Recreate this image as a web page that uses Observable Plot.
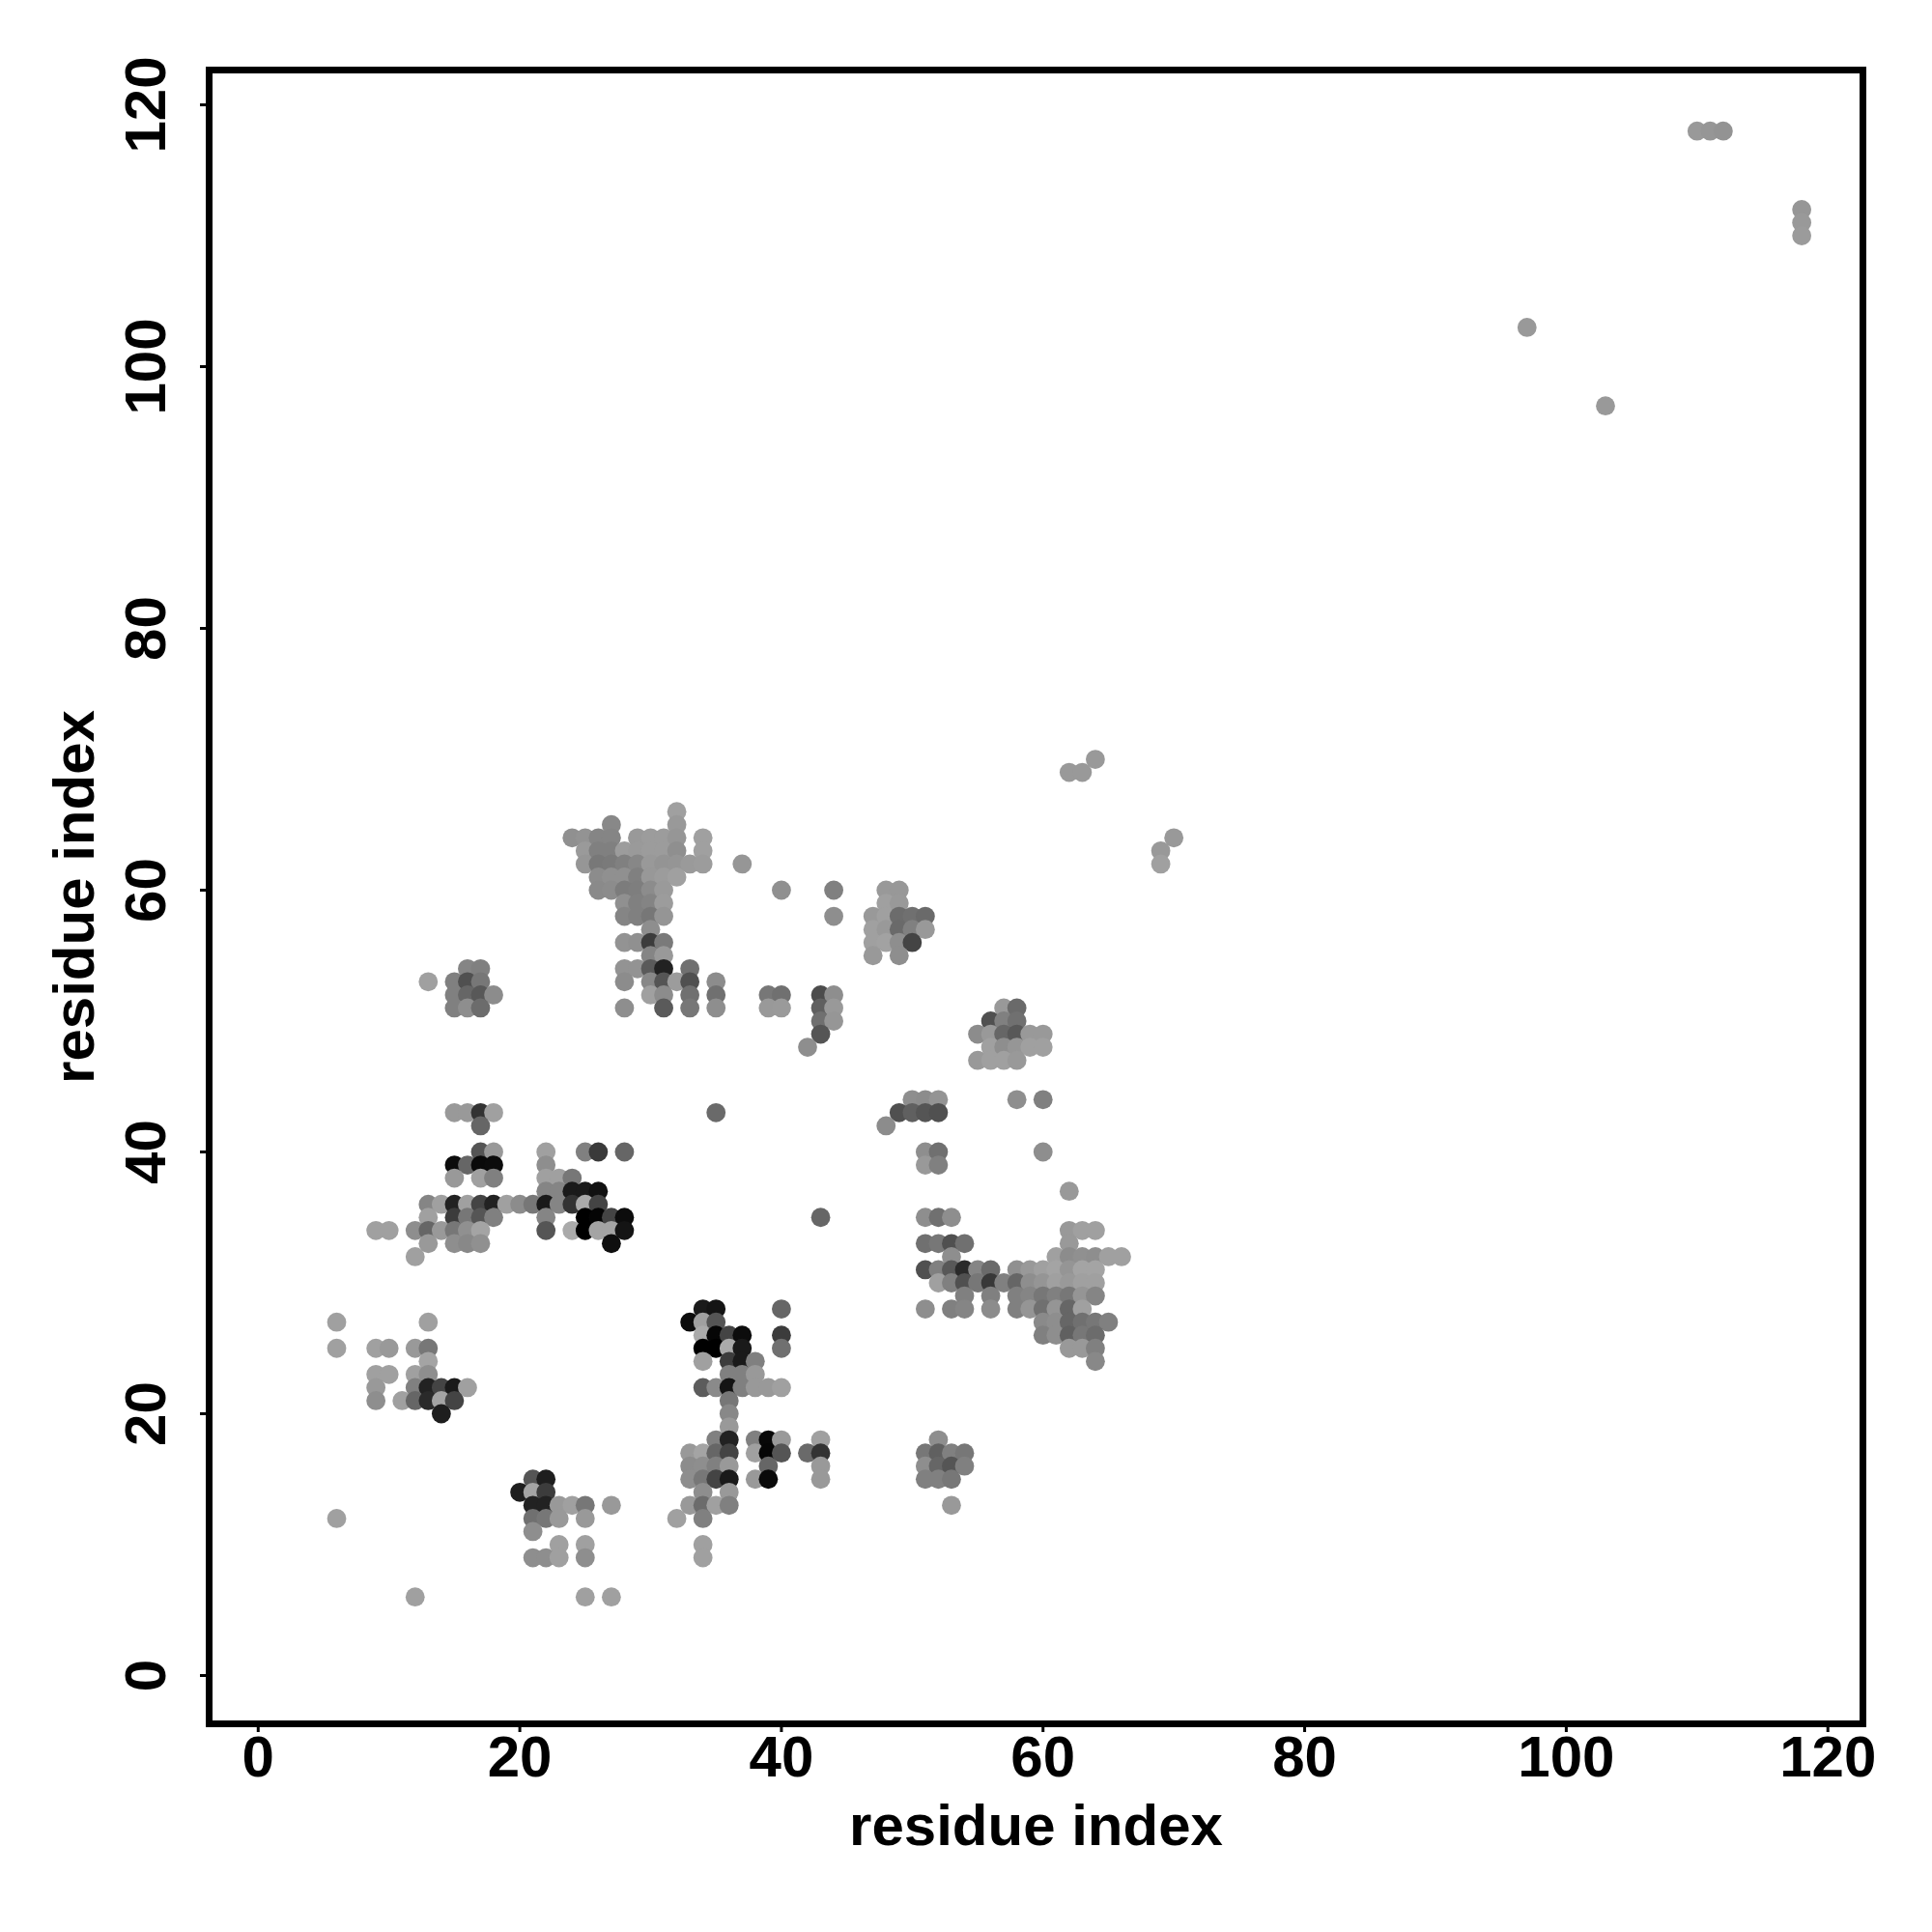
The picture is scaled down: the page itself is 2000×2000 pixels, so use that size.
<!DOCTYPE html>
<html>
<head>
<meta charset="utf-8">
<script src="https://cdn.jsdelivr.net/npm/d3@7"></script>
<script src="https://cdn.jsdelivr.net/npm/@observablehq/plot@0.6"></script>
<style>html,body{margin:0;padding:0;background:#fff}svg{display:block}</style>
</head>
<body>
<div id="chart"></div>
<script>
const tickValues = [0, 20, 40, 60, 80, 100, 120];
const axisTitle = "residue index";
const rowY = [118,112,111,110,103,97,70,69,66,65,64,63,62,61,60,59,58,57,56,55,54,53,52,51,50,49,48,47,44,43,42,40,39,38,37,36,35,34,33,32,31,30,29,28,27,26,25,24,23,22,21,20,19,18,17,16,15,14,13,12,11,10,9,6];
const rowX = [
[110,111,112],
[118],[118],[118],
[97],[103],[64],[62,63],
[32],
[27,32],
[24,25,26,27,29,30,31,32,34,70],
[25,26,27,28,29,30,31,32,34,69],
[25,26,27,28,29,30,31,32,33,34,37,69],
[26,27,28,29,30,31,32],
[26,27,28,29,30,31,40,44,48,49],
[28,29,30,31,48,49],
[28,29,30,31,44,47,48,49,50,51],
[30,47,48,49,50,51],
[28,29,30,31,47,48,49,50],
[30,31,47,49],
[16,17,28,29,30,31,33],
[13,15,16,17,28,30,31,32,33,35],
[15,16,17,18,30,31,33,35,39,40,43,44],
[15,16,17,28,31,33,35,39,40,43,44,57,58],
[43,44,56,57,58],
[43,55,56,57,58,59,60],
[42,56,57,58,59,60],
[55,56,57,58],
[50,51,52,58,60],
[15,16,17,18,35,49,50,51,52],
[17,48],
[17,18,22,25,26,28,51,52,60],
[15,16,17,18,22,51,52],
[15,17,18,22,23,24],
[22,23,24,25,26,62],
[13,14,15,16,17,18,19,20,21,22,23,24,25,26],
[13,15,16,17,18,22,25,26,27,28,43,51,52,53],
[9,10,12,13,14,15,16,17,22,24,25,26,27,28,62,63,64],
[13,15,16,17,27,51,52,53,54,62],
[12,53,61,62,63,64,65,66],
[51,52,53,54,55,56,58,59,60,61,62,63,64],
[52,53,54,55,56,57,58,59,60,61,62,63,64],
[54,56,58,59,60,61,62,63,64],
[34,35,40,51,53,54,56,58,59,60,61,62,63],
[6,13,33,34,35,60,61,62,63,64,65],
[34,35,36,37,40,60,61,62,63,64],
[6,9,10,12,13,34,35,36,37,40,62,63,64],
[13,34,36,37,38,64],
[9,10,12,13,36,37,38],
[9,12,13,14,15,16,34,35,36,37,38,39,40],
[9,11,12,13,14,15,36],
[14,36],
[36],
[35,36,38,39,40,43,52],
[33,34,35,36,38,39,40,42,43,51,52,53,54],
[33,34,35,36,39,43,51,52,53,54],
[21,22,33,34,35,36,38,39,43,51,52,53],
[20,21,22,34,36],
[21,22,23,24,25,27,33,34,35,36,53],
[6,21,22,23,25,32,34],
[21],
[23,25,34],
[21,22,23,25,34],
[12,25,27]
];
const rowGray = [
[153,150,147],
[150],[153],[155],
[153],[153],[153],[153,153],
[160],
[136,153],
[144,147,133,133,153,156,156,150,160,153],
[154,128,128,156,154,156,156,143,160,153],
[150,120,122,128,135,153,148,149,154,156,150,160],
[140,144,144,128,152,156,160],
[138,140,124,126,140,154,144,128,153,152],
[144,128,132,156,160,153],
[133,128,119,149,142,153,160,108,112,106],
[142,160,153,106,128,153],
[147,144,60,122,160,162,142,68],
[133,153,153,142],
[133,128,147,147,90,34,112],
[160,128,80,119,140,136,85,156,80,140],
[128,102,88,140,160,140,112,112,119,112,76,142],
[128,142,108,142,90,119,142,153,154,96,153,153,106],
[112,150,80,128,112],
[85,140,153,102,88,153,153],
[142,160,142,150,160,160],
[153,160,160,153],
[142,140,148,142,128],
[153,153,51,160,106,80,96,85,80],
[102,140],
[85,153,160,128,58,102,142,112,142],
[12,102,10,12,142,153,128],
[153,160,128,160,160,119],
[133,133,26,26,17,153],
[133,160,34,160,68,34,160,140,119,26,133,51,170,68],
[160,60,119,85,128,133,0,5,68,12,102,142,112,142],
[160,160,142,102,153,119,144,164,85,170,0,164,164,20,153,160,160],
[153,142,136,144,15,112,119,80,112,153],
[160,142,160,140,144,142,160,160],
[80,128,88,42,133,106,144,153,160,164,149,164,164],
[160,128,80,119,56,128,102,142,149,160,153,160,160],
[128,128,128,133,119,128,119,149,133],
[26,20,102,142,128,133,140,128,149,112,149,102,160],
[160,160,12,160,85,138,142,102,112,119,128],
[170,6,68,12,60,128,142,96,119,108],
[160,160,153,153,119,0,0,170,26,112,153,153,128],
[164,160,60,26,128,136],
[160,160,160,142,128,128,153],
[153,128,34,68,26,160,92,138,20,128,153,153,160],
[142,160,102,42,164,68,119],
[30,136],
[153],
[128,34,128,8,153,160,142],
[153,164,102,68,160,6,85,106,51,119,96,128,119],
[140,142,128,153,102,153,142,102,85,128],
[85,30,142,119,68,26,153,10,153,128,128,119],
[30,164,60,142,153],
[34,34,153,160,119,153,153,108,160,128,153],
[160,112,119,153,153,160,128],
[142],
[160,160,160],
[142,142,160,142,160],
[160,160,160]
];
const points = rowY.flatMap((y, i) => rowX[i].map((x, j) => ({x, y, level: rowGray[i][j]})));

const plot = Plot.plot({
  width: 2000,
  height: 2000,
  marginLeft: 216,
  marginRight: 72,
  marginTop: 72,
  marginBottom: 216,
  style: {fontFamily: "'Liberation Sans', Arial, sans-serif", fontWeight: 700, background: "#fff", color: "#000"},
  x: {domain: [-3.75, 122.68]},
  y: {domain: [-3.69, 122.66]},
  color: {type: "linear", domain: [0, 255], range: ["#000", "#fff"]},
  marks: [
    Plot.dot(points, {x: "x", y: "y", r: 9.9, fill: d => d.level, stroke: "none"}),
    Plot.frame({stroke: "#000", strokeWidth: 7}),
    Plot.axisX({ticks: tickValues, tickSize: 9, tickPadding: 3, strokeWidth: 3, fontSize: 60, label: axisTitle, labelAnchor: "center", labelArrow: "none", labelOffset: 125, tickFormat: d => String(d)}),
    Plot.axisY({ticks: tickValues, tickSize: 9, tickRotate: -90, tickPadding: 37, strokeWidth: 3, fontSize: 60, label: axisTitle, labelAnchor: "center", labelArrow: "none", labelOffset: 162, tickFormat: d => String(d)})
  ]
});
document.getElementById("chart").appendChild(plot);
</script>
</body>
</html>
